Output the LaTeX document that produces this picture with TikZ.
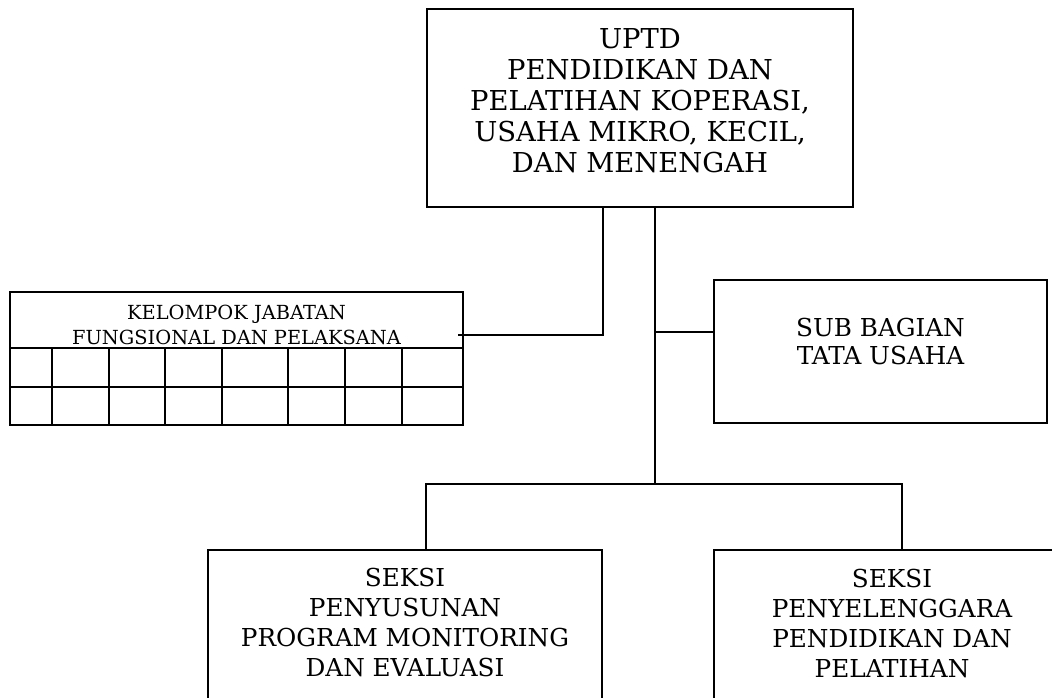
\documentclass[tikz,border=0pt]{standalone}
\usepackage{fontspec}
\setmainfont{DejaVu Serif}
\usetikzlibrary{positioning}
\tikzset{
  unit/.style={draw, line width=1.8pt, inner sep=0pt},
  boxtext/.style={inner sep=0pt, align=center, anchor=north},
}
\begin{document}
\begin{tikzpicture}[x=1pt, y=-1pt, line width=1.8pt]
\clip (0,0) rectangle (1052,698);
% boxes, top to bottom
\node[unit, minimum width=426pt, minimum height=198pt] (uptd) at (640,108) {};
\node[unit, minimum width=453pt, minimum height=133pt] (jf) at (236.5,358.5) {};
\node[unit, minimum width=333pt, minimum height=143pt] (tu) at (880.5,351.5) {};
\node[unit, minimum width=394pt, minimum height=220pt, anchor=north] (s1) at (405,549) {};
\node[unit, minimum width=356pt, minimum height=220pt, anchor=north] (s2) at (892,549) {};
% texts
\node[boxtext, font=\fontsize{27.4}{31}\selectfont] (uptdtxt) at (640,28)
  {UPTD\\ PENDIDIKAN DAN\\ PELATIHAN KOPERASI,\\ USAHA MIKRO, KECIL,\\ DAN MENENGAH};
\node[boxtext, font=\fontsize{19.4}{25}\selectfont] (jftxt) at (236.5,304)
  {KELOMPOK JABATAN\\ FUNGSIONAL DAN PELAKSANA};
\node[boxtext, font=\fontsize{24.7}{28}\selectfont] (tutxt) at (880.5,317)
  {SUB BAGIAN\\ TATA USAHA};
\node[boxtext, font=\fontsize{24.7}{30}\selectfont] (s1txt) at (405,567)
  {SEKSI\\ PENYUSUNAN\\ PROGRAM MONITORING\\ DAN EVALUASI};
\node[boxtext, font=\fontsize{24.7}{30}\selectfont] (s2txt) at (892,568)
  {SEKSI\\ PENYELENGGARA\\ PENDIDIKAN DAN\\ PELATIHAN};
% cells of the table
\draw (10,348) -- (463,348);
\draw (10,387) -- (463,387);
\foreach \x in {52,109,165,222,288,345,402}
  \draw (\x,348) -- (\x,425);
% connectors
\coordinate (dl) at (603,207);
\coordinate (dr) at (655,207);
\coordinate (jfa) at (458,335);
\coordinate (tua) at (714,332);
\coordinate (bl) at (426,484);
\coordinate (br) at (902,484);
\draw (dl) |- (jfa);
\draw (dr) -- (dr |- bl);
\draw (dr |- tua) -- (tua);
\draw (bl |- s1.north) -- (bl) -- (br) -- (br |- s2.north);
\end{tikzpicture}
\end{document}
